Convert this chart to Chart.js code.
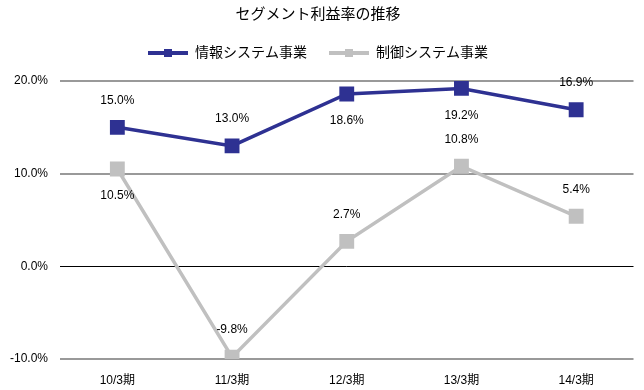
<!DOCTYPE html>
<html>
<head>
<meta charset="utf-8">
<script src="https://cdn.jsdelivr.net/npm/chart.js@4/dist/chart.umd.min.js"></script>
<style>
  html, body { margin: 0; padding: 0; background: #fff; }
  #wrap { width: 644px; height: 390px; }
</style>
</head>
<body>
<div id="wrap"><canvas id="myChart"></canvas></div>
<script>
const labels = ['10/3期', '11/3期', '12/3期', '13/3期', '14/3期'];
const infoSystem = [15.0, 13.0, 18.6, 19.2, 16.9];
const controlSystem = [10.5, -9.8, 2.7, 10.8, 5.4];
const seriesNames = ['情報システム事業', '制御システム事業'];
const yTicks = [-10, 0, 10, 20];

const BLUE = '#2E3192';
const GRAY = '#C0C0C0';
const FONT = '"Liberation Sans", "Noto Sans CJK JP", sans-serif';

// legend marker: line with a small square in the middle
function legendMarker(color) {
  const c = document.createElement('canvas');
  c.width = 40; c.height = 10;
  const g = c.getContext('2d');
  g.fillStyle = color;
  g.fillRect(0, 3, 40, 4);
  g.fillRect(16, 1, 8, 8);
  return c;
}

// extra room under the legend
const legendGap = {
  id: 'legendGap',
  beforeInit(chart) {
    const fit = chart.legend.fit;
    chart.legend.fit = function () {
      fit.bind(chart.legend)();
      this.height += 11;
    };
  }
};

// value labels, above or below each point
const valueLabels = {
  id: 'valueLabels',
  afterDatasetsDraw(chart) {
    const ctx = chart.ctx;
    ctx.save();
    ctx.font = '12px ' + FONT;
    ctx.fillStyle = '#000';
    ctx.textAlign = 'center';
    ctx.textBaseline = 'middle';
    chart.data.datasets.forEach((ds, i) => {
      chart.getDatasetMeta(i).data.forEach((pt, j) => {
        const dy = ds.labelSide[j] === 'below' ? 27 : -27;
        ctx.fillText(ds.data[j].toFixed(1) + '%', pt.x, pt.y + dy);
      });
    });
    ctx.restore();
  }
};

const data = {
  labels: labels,
  datasets: [{
    label: seriesNames[0],
    data: infoSystem,
    borderColor: BLUE,
    backgroundColor: BLUE,
    borderWidth: 3.5,
    pointStyle: 'rect',
    pointRadius: 10.5,
    pointBorderWidth: 0,
    labelSide: ['above', 'above', 'below', 'below', 'above']
  }, {
    label: seriesNames[1],
    data: controlSystem,
    borderColor: GRAY,
    backgroundColor: GRAY,
    borderWidth: 3.5,
    pointStyle: 'rect',
    pointRadius: 10.5,
    pointBorderWidth: 0,
    labelSide: ['below', 'above', 'above', 'above', 'above']
  }]
};

const markers = [legendMarker(BLUE), legendMarker(GRAY)];

const config = {
  type: 'line',
  data,
  plugins: [legendGap, valueLabels],
  options: {
    responsive: true,
    maintainAspectRatio: false,
    animation: false,
    layout: { padding: { left: 0, right: 8, top: 4, bottom: 0 } },
    plugins: {
      title: {
        display: true,
        text: 'セグメント利益率の推移',
        color: '#000',
        font: { family: FONT, size: 15, weight: 'normal' },
        padding: { top: 2, bottom: 0 }
      },
      legend: {
        labels: {
          usePointStyle: true,
          pointStyleWidth: 40,
          boxHeight: 10,
          color: '#000',
          font: { family: FONT, size: 14 },
          padding: 22,
          generateLabels(chart) {
            return chart.data.datasets.map((ds, i) => ({
              text: ds.label,
              pointStyle: markers[i],
              fillStyle: ds.backgroundColor,
              strokeStyle: ds.borderColor,
              lineWidth: 0,
              datasetIndex: i
            }));
          }
        }
      },
      tooltip: { enabled: false }
    },
    scales: {
      x: {
        offset: true,
        afterFit(s) { s.height = 31; },
        grid: { display: false, drawTicks: false },
        border: { display: false },
        ticks: { color: '#000', font: { family: FONT, size: 12 }, padding: 14 }
      },
      y: {
        min: -10,
        max: 20,
        afterFit(s) { s.width = 60; },
        afterBuildTicks(s) { s.ticks = yTicks.map(v => ({ value: v })); },
        border: { display: false },
        grid: {
          drawTicks: false,
          color: ctx => ctx.tick && ctx.tick.value === 0 ? '#000' : '#999',
          lineWidth: ctx => ctx.tick && ctx.tick.value === 0 ? 1 : 2
        },
        ticks: {
          color: '#000',
          font: { family: FONT, size: 12 },
          padding: 12,
          callback: v => v.toFixed(1) + '%'
        }
      }
    }
  }
};

var myChart = new Chart(document.getElementById('myChart'), config);
</script>
</body>
</html>
